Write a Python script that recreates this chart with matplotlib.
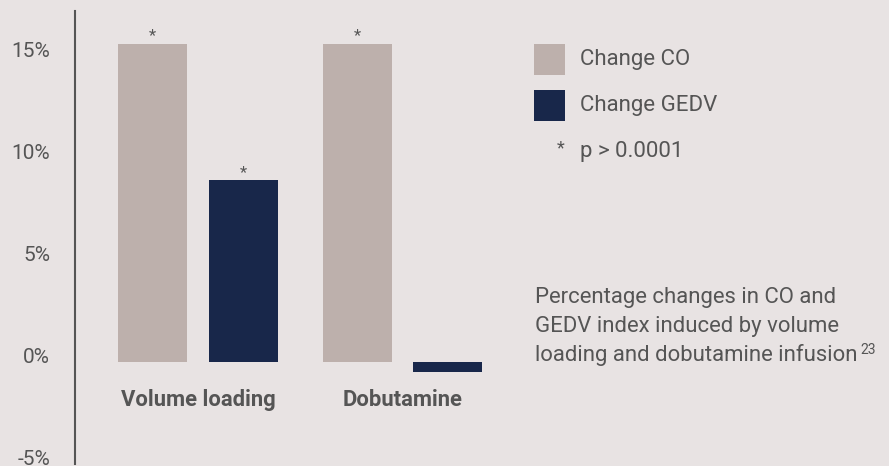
import matplotlib
matplotlib.use("Agg")
import matplotlib.pyplot as plt
import numpy as np
from matplotlib.patches import Rectangle
from matplotlib.transforms import ScaledTranslation

# percentage change per intervention
categories = ["Volume loading", "Dobutamine"]
change_co = [15.6, 15.6]
change_gedv = [8.9, -0.5]
co_significant = [True, True]
gedv_significant = [True, False]

yticks = [-5, 0, 5, 10, 15]
ytick_labels = ["-5%", "0%", "5%", "10%", "15%"]
legend_labels = ["Change CO", "Change GEDV"]
note_label = "p > 0.0001"
caption_lines = ["Percentage changes in CO and",
                 "GEDV index induced by volume",
                 "loading and dobutamine infusion"]
caption_ref = "23"

BG = "#e8e3e3"
CO_COLOR = "#bdb0ac"
GEDV_COLOR = "#18274a"
TEXT = "#555555"
W, H = 889, 466

plt.rcParams["font.family"] = ["Roboto", "DejaVu Sans"]


def fx(px):
    return px / W


def fy(py):
    return 1 - py / H


fig = plt.figure(figsize=(W / 100, H / 100), dpi=100, facecolor=BG)
ax = fig.add_axes([fx(74.5), fy(464), fx(520) - fx(74.5), fy(11) - fy(464)])
ax.set_facecolor(BG)
ax.set_xlim(-0.604, 1.575)
ax.set_ylim(-5, -5 + 453 / 20.4)

x = np.arange(len(categories))
off, width = 0.222, 0.337
ax.bar(x - off, change_co, width=width, color=CO_COLOR)
ax.bar(x + off, change_gedv, width=width, color=GEDV_COLOR)

# significance stars above the bars
for xs, vals, sig in ((x - off, change_co, co_significant),
                      (x + off, change_gedv, gedv_significant)):
    for xi, v, s in zip(xs, vals, sig):
        if s:
            ax.annotate("*", (xi, v), xytext=(0, 0.5), textcoords="offset points",
                        ha="center", va="bottom", fontsize=12, color=TEXT)

for xi, name in zip(x, categories):
    ax.annotate(name, (xi, 0), xytext=(0, -27.5), textcoords="offset points",
                ha="center", va="center", fontsize=15.8, fontweight="bold",
                color=TEXT)

for side in ("top", "right", "bottom"):
    ax.spines[side].set_visible(False)
ax.spines["left"].set_color(TEXT)
ax.spines["left"].set_linewidth(1.5)
ax.set_xticks([])
ax.set_yticks(yticks)
ax.set_yticklabels(ytick_labels, fontsize=15, color=TEXT)
ax.tick_params(axis="y", length=0, pad=17.5)
for lab in ax.get_yticklabels():
    lab.set_transform(lab.get_transform()
                      + ScaledTranslation(0, 6.5 / 100, fig.dpi_scale_trans))

# legend
for i, (lab, col) in enumerate(zip(legend_labels, [CO_COLOR, GEDV_COLOR])):
    top = 44 + i * 46
    fig.add_artist(Rectangle((fx(534), fy(top + 31)), fx(31), 31 / H,
                             transform=fig.transFigure, color=col, lw=0))
    fig.text(fx(580), fy(top + 16), lab, fontsize=16, color=TEXT,
             va="center", ha="left")
fig.text(fx(561), fy(148), "*", fontsize=13, color=TEXT, va="center",
         ha="center")
fig.text(fx(580), fy(151), note_label, fontsize=16, color=TEXT,
         va="center", ha="left")

# caption
for i, line in enumerate(caption_lines):
    t = fig.text(fx(535), fy(298 + i * 28.5), line, fontsize=15.9, color=TEXT,
                 va="center", ha="left")
fig.canvas.draw()
bb = t.get_window_extent()
fig.text(bb.x1 / W + fx(3), fy(350), caption_ref, fontsize=10, color=TEXT,
         va="center", ha="left")

fig.savefig("out.png", dpi=100, facecolor=BG)
